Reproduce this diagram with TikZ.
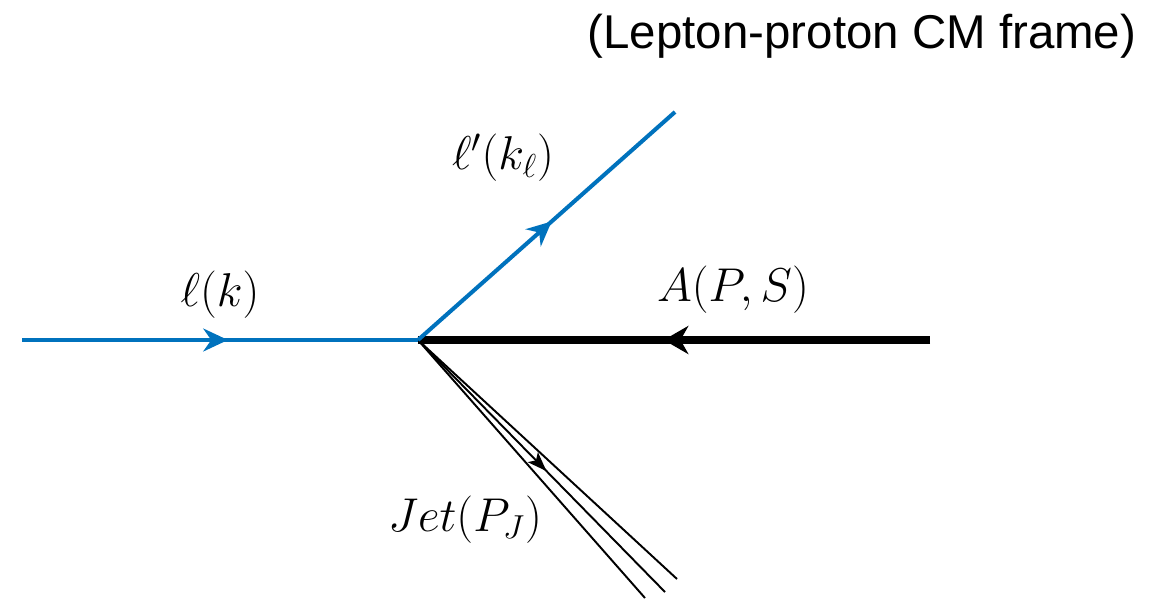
\RequirePackage{fix-cm}
\documentclass[tikz,border=0pt]{standalone}
\usepackage{fontspec}
\newfontfamily\titlefont{Liberation Sans}
\usetikzlibrary{arrows.meta,decorations.markings}

\definecolor{leptonblue}{RGB}{0,114,189}

\tikzset{
  lepton/.style={leptonblue, line width=2.3pt,
    postaction={decorate}, decoration={markings,
      mark=at position 0.52 with {\arrow{Stealth[length=14pt,width=13pt,inset=4.5pt]}}}},
  hadron/.style={black, line width=4.4pt,
    postaction={decorate}, decoration={markings,
      mark=at position 0.52 with {\arrow{Stealth[length=14pt,width=16pt,inset=4.5pt]}}}},
  jetline/.style={black, line width=1.1pt},
  jetarrow/.style={postaction={decorate}, decoration={markings,
      mark=at position 0.52 with {\arrow{Stealth[length=11pt,width=8pt,inset=2.5pt]}}}},
  mlabel/.style={font=\fontsize{27}{32}\selectfont}
}

\begin{document}
\begin{tikzpicture}[x=0.02cm, y=-0.02cm, line cap=butt]
  \useasboundingbox (0,0) rectangle (1150,602);

  % 頂点と端点
  \coordinate (V) at (418,340);
  \coordinate (Lin) at (22,340);
  \coordinate (Lout) at (675,112);
  \coordinate (Pin) at (930,340);
  \coordinate (J1) at (645,598);
  \coordinate (J2) at (665,592);
  \coordinate (J3) at (677,579);

  % ジェット
  \draw [jetline] (V) -- (J1);
  \draw [jetline, jetarrow] (V) -- (J2);
  \draw [jetline] (V) -- (J3);

  % 陽子（原子核）
  \draw [hadron] (Pin) -- (V);

  % レプトン
  \draw [lepton] (Lin) -- (V);
  \draw [lepton] (V) -- (Lout);

  % ラベル
  \node[mlabel] (lk) at (220,295) {$\ell(k)$};
  \node[mlabel] (lpk) at (503,158) {$\ell'(k_\ell)$};
  \node[mlabel] (APS) at (733,290) {$A(P,S)$};
  \node[mlabel] (jet) at (465,520) {$Jet(P_J)$};
  \node[font=\titlefont\fontsize{27}{32}\selectfont] (title) at (862,36)
    {(Lepton-proton CM frame)};
\end{tikzpicture}
\end{document}
